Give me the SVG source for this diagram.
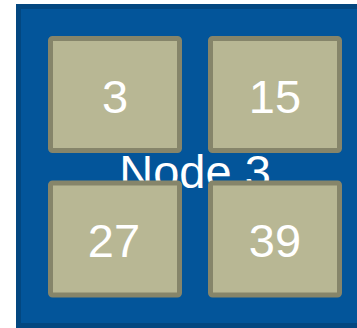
<svg xmlns="http://www.w3.org/2000/svg" width="357" height="328" viewBox="0 0 357 328">
<style>
.outer{fill:#03559a;stroke:#034780;stroke-width:5}
.box{fill:#b8b794;stroke:#86856a;stroke-width:5}
.lbl{font-family:"Liberation Sans",Arial,sans-serif;font-size:47px;fill:#ffffff;text-anchor:middle}
</style>
<g id="node3">
<rect class="outer" x="18.5" y="6.5" width="360" height="319"/>
<text class="lbl" x="195" y="188">Node 3</text>
</g>
<g id="connectors"/>
<g id="n3">
<rect class="box" x="50.5" y="38.5" width="129" height="112" rx="2"/>
<text class="lbl" x="115" y="113">3</text>
</g>
<g id="n15">
<rect class="box" x="210.5" y="38.5" width="129" height="112" rx="2"/>
<text class="lbl" x="275" y="113">15</text>
</g>
<g id="n27">
<rect class="box" x="50.5" y="183" width="129" height="112" rx="2"/>
<text class="lbl" x="114" y="257">27</text>
</g>
<g id="n39">
<rect class="box" x="210.5" y="183" width="129" height="112" rx="2"/>
<text class="lbl" x="275" y="257">39</text>
</g>
</svg>
